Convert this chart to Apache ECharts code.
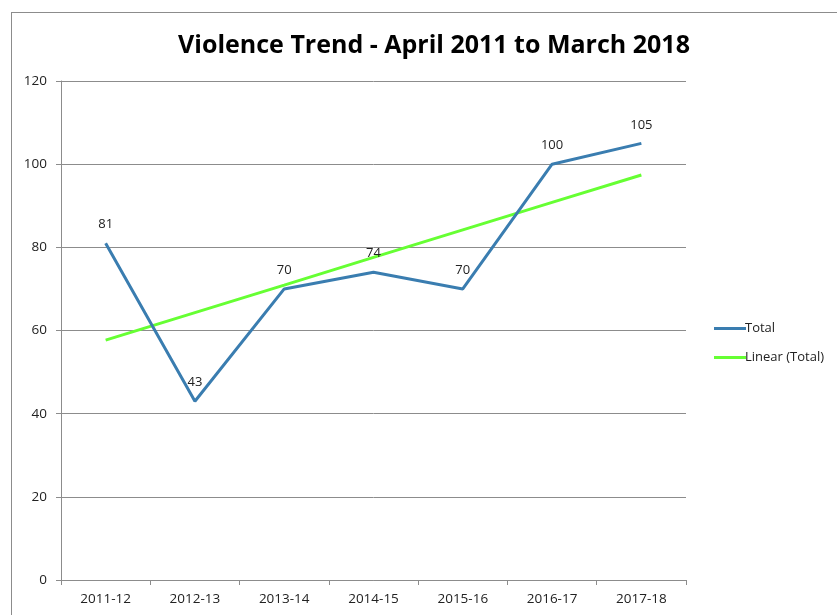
<!DOCTYPE html>
<html>
<head>
<meta charset="utf-8">
<script src="https://cdn.jsdelivr.net/npm/echarts@6/dist/echarts.min.js"></script>
<style>
  html, body { margin: 0; padding: 0; background: #fff; }
  #frame {
    position: absolute; left: 11px; top: 12px; width: 900px; height: 700px;
    border: 1px solid #8c8c8c; box-sizing: border-box;
  }
  #chart { position: absolute; left: 0; top: 0; width: 837px; height: 615px; }
</style>
</head>
<body>
<div id="frame"></div>
<div id="chart"></div>
<script>
const years = ['2011-12', '2012-13', '2013-14', '2014-15', '2015-16', '2016-17', '2017-18']
const totals = [81, 43, 70, 74, 70, 100, 105]
// trend line
const trend = [57.7, 64.3, 70.9, 77.6, 84.2, 90.8, 97.4]
const yTicks = [0, 20, 40, 60, 80, 100, 120]

const chart = echarts.init(document.getElementById('chart'))
const font = 'Open Sans, Noto Sans, sans-serif'

const option = {
  animation: false,
  title: {
    text: 'Violence Trend - April 2011 to March 2018',
    left: 429, top: 28, textAlign: 'center',
    textStyle: { fontFamily: font, fontSize: 25, fontWeight: 'bold', color: '#000' }
  },
  legend: {
    orient: 'vertical', left: 709, top: 317, itemGap: 16,
    itemWidth: 32, itemHeight: 3,
    icon: 'rect',
    textStyle: { fontFamily: font, fontSize: 13, color: '#222', padding: [0, 0, 0, -6] },
    data: ['Total', 'Linear (Total)']
  },
  grid: { left: 61, top: 81, width: 625, height: 499 },
  xAxis: {
    type: 'category', data: years, boundaryGap: true,
    axisLine: { lineStyle: { color: '#8c8c8c', width: 1 } },
    axisTick: { show: true, length: 5, lineStyle: { color: '#8c8c8c' } },
    axisLabel: { fontFamily: font, fontSize: 13.5, color: '#222', margin: 12 }
  },
  yAxis: {
    type: 'value', min: yTicks[0], max: yTicks[yTicks.length - 1], interval: 20,
    axisLine: { show: true, lineStyle: { color: '#8c8c8c' } },
    axisTick: { show: true, length: 5, lineStyle: { color: '#8c8c8c' } },
    axisLabel: { fontFamily: font, fontSize: 13.5, color: '#222', margin: 14 },
    splitLine: { lineStyle: { color: '#8c8c8c', width: 1 } }
  },
  series: [
    {
      name: 'Total', type: 'line', data: totals,
      symbol: 'circle', symbolSize: 0,
      lineStyle: { color: '#3a7db0', width: 3 },
      itemStyle: { color: '#3a7db0' },
      label: {
        show: true, position: 'top', distance: 12,
        fontFamily: font, fontSize: 13, color: '#222'
      },
      z: 3
    },
    {
      name: 'Linear (Total)', type: 'line', data: trend,
      symbol: 'none',
      lineStyle: { color: '#66ff33', width: 3 },
      itemStyle: { color: '#66ff33' },
      z: 2
    }
  ]
}

chart.setOption(option)
</script>
</body>
</html>
